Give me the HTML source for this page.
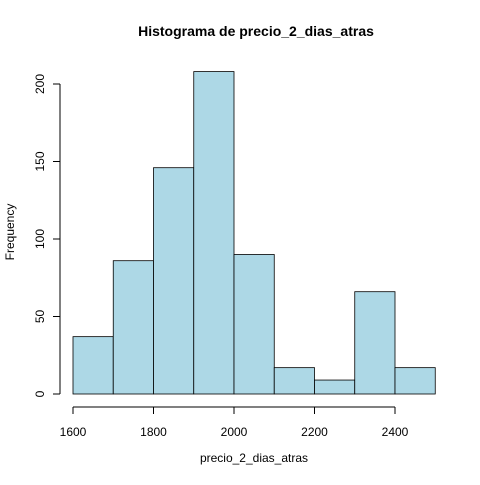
<!DOCTYPE html>
<html><head><meta charset="utf-8"><style>
body{margin:0;background:#fff}
text{font-family:"Liberation Sans",Arial,sans-serif;font-size:12px;fill:#000}
</style></head><body>
<svg id="chart" width="480" height="480" viewBox="0 0 480 480" xmlns="http://www.w3.org/2000/svg">
<rect width="480" height="480" fill="#fff"/>
<text x="256" y="36" text-anchor="middle" style="font-weight:bold;font-size:14px">Histograma de precio_2_dias_atras</text>
<text x="254" y="462" text-anchor="middle">precio_2_dias_atras</text>
<text transform="translate(14,232) rotate(-90)" text-anchor="middle">Frequency</text>
<g id="bars"></g><g id="axes"></g>
</svg>
<script>
const binStarts=[1600,1700,1800,1900,2000,2100,2200,2300,2400];
const binWidth=100;
const counts=[37,86,146,208,90,17,9,66,17];
const xTicks=[1600,1800,2000,2200,2400];
const yTicks=[0,50,100,150,200];
const x=v=>73+(v-1600)*0.4025;
const y=v=>394-v*1.55;
const NS="http://www.w3.org/2000/svg";
const bars=document.getElementById('bars'),axes=document.getElementById('axes');
function mk(tag,attrs,parent){const e=document.createElementNS(NS,tag);for(const k in attrs)e.setAttribute(k,attrs[k]);parent.appendChild(e);return e;}
binStarts.forEach((b,i)=>{
  const r=mk('rect',{x:x(b),y:y(counts[i]),width:x(b+binWidth)-x(b),height:y(0)-y(counts[i]),fill:'#add8e6',stroke:'#000','stroke-width':0.8},bars);
  
  
});
const xa=mk('line',{x1:x(xTicks[0]),x2:x(xTicks[xTicks.length-1]),y1:407,y2:407,stroke:'#000'},axes);


xTicks.forEach(t=>{
  mk('line',{x1:x(t),x2:x(t),y1:407,y2:414,stroke:'#000'},axes);
  const tx=mk('text',{x:x(t),y:436,'text-anchor':'middle'},axes);tx.textContent=t;
  
  
});
const ya=mk('line',{x1:60,x2:60,y1:y(yTicks[0]),y2:y(yTicks[yTicks.length-1]),stroke:'#000'},axes);


yTicks.forEach(t=>{
  mk('line',{x1:53,x2:60,y1:y(t),y2:y(t),stroke:'#000'},axes);
  const tx=mk('text',{transform:`translate(44,${y(t)}) rotate(-90)`,'text-anchor':'middle'},axes);tx.textContent=t;
  
  
});
</script>
</body></html>
